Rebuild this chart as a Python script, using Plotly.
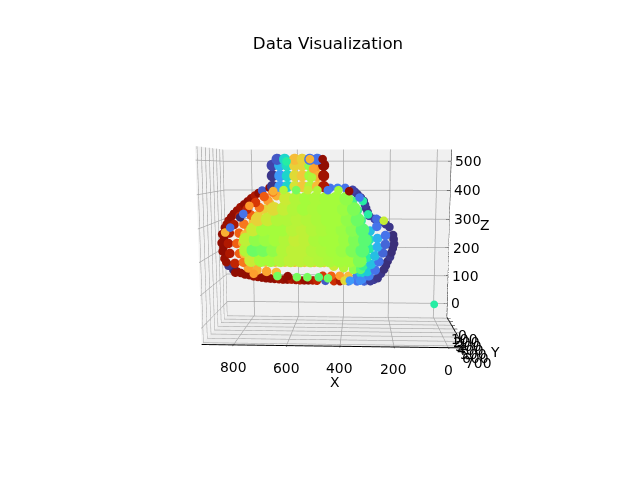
import plotly.graph_objects as go

# outer rim of the blob, drawn first and furthest back
rim_x = [895, 892, 885, 869, 849, 819, 784, 749, 714, 679, 644, 609, 574, 539, 504, 469, 434,
         892, 880, 864, 842, 814, 784, 754, 724, 694, 664,
         195, 190, 200, 215, 230, 255, 285, 210, 240, 270,
         292, 304, 314, 339, 359, 389, 419, 449,
         310, 339, 374, 409,
         192, 195, 206, 222, 242, 270, 225, 255, 298, 309, 326, 349,
         885, 872, 853, 828, 799, 769, 739,
         888, 878, 834, 801, 766, 731, 696, 661, 626, 591, 556, 521,
         480, 445, 410, 375, 340]
rim_z = [233, 205, 181, 157, 143, 133, 126, 120, 116, 114, 112, 112, 110, 110, 109, 109, 108,
         262, 284, 307, 329, 351, 370, 389, 405, 414, 419,
         262, 233, 205, 176, 148, 119, 109, 288, 305, 314,
         324, 348, 372, 393, 408, 414, 414, 414,
         108, 108, 108, 108,
         248, 219, 190, 162, 134, 114, 297, 310, 336, 360, 383, 401,
         248, 295, 318, 340, 360, 380, 397,
         219, 169, 138, 128, 122, 118, 115, 113, 112, 111, 110, 110,
         126, 126, 126, 126, 126]
rim_c = [0.97, 0.97, 0.96, 0.05, 0.03, 0.97, 0.97, 0.96, 0.97, 0.97, 0.96, 0.93, 0.93, 0.97, 0.9, 0.1, 0.88,
         0.97, 0.97, 0.96, 0.97, 0.95, 0.97, 0.93, 0.1, 0.97, 0.14,
         0.04, 0.04, 0.04, 0.04, 0.04, 0.05, 0.06, 0.05, 0.07, 0.07,
         0.06, 0.05, 0.05, 0.05, 0.07, 0.14, 0.16, 0.14,
         0.12, 0.14, 0.14, 0.93,
         0.04, 0.04, 0.05, 0.04, 0.05, 0.06, 0.05, 0.06, 0.05, 0.06, 0.05, 0.06,
         0.97, 0.96, 0.97, 0.96, 0.97, 0.96, 0.97,
         0.97, 0.96, 0.97, 0.97, 0.96, 0.97, 0.97, 0.95, 0.97, 0.95, 0.96, 0.93,
         0.86, 0.79, 0.71, 0.66, 0.16]

# colour bands just inside the rim, red to orange on the left, blue to teal on the right
band_x = [864, 859, 839, 859, 839, 814, 784, 749, 714, 679,
          829, 819, 804, 819, 799, 769, 734, 699, 664, 784, 749, 709, 669,
          226, 226, 236, 251, 266, 291, 261, 319,
          258, 258, 268, 283, 298, 288, 324,
          290, 290, 300, 315, 324, 339, 359,
          754, 714, 674, 634, 594, 554, 514, 474,
          434, 394, 354, 325,
          800, 805, 795, 780, 760, 740, 715, 690]
band_z = [233, 200, 167, 267, 295, 322, 345, 367, 386, 400,
          233, 200, 171, 267, 297, 326, 351, 373, 389, 152, 145, 141, 138,
          262, 233, 205, 176, 148, 129, 291, 119,
          252, 224, 195, 167, 143, 276, 138,
          248, 219, 190, 162, 310, 343, 372,
          172, 172, 172, 172, 172, 172, 172, 172,
          160, 155, 150, 150,
          200, 235, 262, 285, 305, 325, 345, 362]
band_c = [0.93, 0.93, 0.9, 0.93, 0.93, 0.9, 0.9, 0.86, 0.8, 0.75,
          0.79, 0.79, 0.76, 0.79, 0.76, 0.79, 0.76, 0.71, 0.68, 0.7, 0.68, 0.7, 0.66,
          0.14, 0.12, 0.12, 0.14, 0.14, 0.16, 0.14, 0.18,
          0.24, 0.24, 0.26, 0.26, 0.28, 0.26, 0.3,
          0.34, 0.36, 0.36, 0.38, 0.38, 0.38, 0.4,
          0.68, 0.66, 0.66, 0.64, 0.66, 0.64, 0.64, 0.62,
          0.56, 0.52, 0.48, 0.42,
          0.66, 0.68, 0.66, 0.68, 0.64, 0.66, 0.62, 0.6]

# knob on top of the body
knob_x = [679, 649, 619, 589, 559, 529, 499, 474,
          679, 649, 619, 589, 559, 529, 499, 474,
          679, 649, 619, 589, 559, 529, 499, 474,
          659, 629, 589, 559, 529, 499]
knob_z = [419, 419, 419, 419, 419, 419, 419, 419,
          453, 453, 453, 453, 453, 453, 453, 453,
          486, 486, 486, 486, 486, 486, 486, 486,
          505, 505, 505, 505, 505, 505]
knob_c = [0.05, 0.2, 0.3, 0.58, 0.64, 0.52, 0.66, 0.93,
          0.05, 0.2, 0.3, 0.6, 0.64, 0.5, 0.68, 0.95,
          0.07, 0.24, 0.32, 0.62, 0.62, 0.48, 0.72, 0.97,
          0.1, 0.3, 0.66, 0.62, 0.14, 0.14]

# filled middle of the body
body_x = [384, 424, 464, 504, 544, 584, 624,
          354, 394, 434, 474, 514, 554, 594, 634, 674,
          339, 379, 419, 459, 499, 539, 579, 619, 659, 699, 739,
          319, 359, 399, 439, 479, 519, 559, 599, 639, 679, 719, 759,
          309, 349, 389, 429, 469, 509, 549, 589, 629, 669, 709, 749, 789,
          319, 359, 399, 439, 479, 519, 559, 599, 639, 679, 719, 759, 789,
          329, 369, 409, 449, 489, 529, 569, 609, 649, 689, 729, 769]
body_z = [381, 381, 381, 381, 381, 381, 381,
          348, 348, 348, 348, 348, 348, 348, 348, 348,
          314, 314, 314, 314, 314, 314, 314, 314, 314, 314, 314,
          281, 281, 281, 281, 281, 281, 281, 281, 281, 281, 281, 281,
          248, 248, 248, 248, 248, 248, 248, 248, 248, 248, 248, 248, 248,
          214, 214, 214, 214, 214, 214, 214, 214, 214, 214, 214, 214, 214,
          181, 181, 181, 181, 181, 181, 181, 181, 181, 181, 181, 181]
body_c = [0.48, 0.5, 0.5, 0.51, 0.5, 0.52, 0.56,
          0.46, 0.49, 0.5, 0.5, 0.51, 0.5, 0.52, 0.55, 0.6,
          0.44, 0.48, 0.5, 0.5, 0.51, 0.52, 0.53, 0.52, 0.52, 0.56, 0.62,
          0.42, 0.47, 0.49, 0.5, 0.51, 0.52, 0.54, 0.53, 0.5, 0.5, 0.5, 0.56,
          0.42, 0.46, 0.49, 0.5, 0.5, 0.51, 0.54, 0.55, 0.52, 0.5, 0.49, 0.48, 0.54,
          0.42, 0.46, 0.49, 0.5, 0.51, 0.52, 0.54, 0.54, 0.52, 0.48, 0.45, 0.44, 0.52,
          0.46, 0.5, 0.5, 0.51, 0.52, 0.53, 0.54, 0.54, 0.52, 0.5, 0.5, 0.56]

# the loose dots that sit in front of everything
front_x = [756, 660, 618, 581, 539, 493, 456, 389, 368, 327, 831,
           672, 631, 581, 535, 497, 456, 414, 372, 331, 318, 297, 264, 235,
           768, 793, 806, 847, 868,
           618, 526, 518, 514, 476]
front_z = [138, 131, 131, 128, 128, 128, 125, 118, 118, 118, 141,
           405, 408, 408, 408, 408, 408, 408, 405, 385, 374, 332, 318, 312,
           358, 332, 321, 288, 272,
           498, 505, 448, 475, 505]
front_c = [0.71, 0.45, 0.97, 0.45, 0.45, 0.42, 0.44, 0.6, 0.2, 0.18, 0.97,
           0.68, 0.52, 0.45, 0.55, 0.52, 0.15, 0.5, 0.97, 0.15, 0.36, 0.36, 0.13, 0.55,
           0.72, 0.14, 0.03, 0.13, 0.68,
           0.36, 0.68, 0.52, 0.7, 0.97]

# single stray point at the origin
stray_x = [0]
stray_y = [0]
stray_z = [0]
stray_c = [0.36]

x_ticks = [0, 200, 400, 600, 800]
y_ticks = [0, 100, 200, 300, 400, 500, 600, 700]
z_ticks = [0, 100, 200, 300, 400, 500]
x_range = [-60, 920]
y_range = [-30, 740]
z_range = [-50, 540]

layers = [
    (rim_x, 300, rim_z, rim_c, 5),
    (band_x, 325, band_z, band_c, 5.5),
    (knob_x, 335, knob_z, knob_c, 6.5),
    (body_x, 355, body_z, body_c, 8),
    (front_x, 385, front_z, front_c, 5),
]

fig = go.Figure()
for xs, depth, zs, cs, size in layers:
    fig.add_trace(go.Scatter3d(
        x=xs, y=[depth] * len(xs), z=zs, mode="markers",
        marker=dict(size=size, color=cs, colorscale="Turbo", cmin=0, cmax=1, opacity=1, line=dict(width=0)),
        showlegend=False))
fig.add_trace(go.Scatter3d(
    x=stray_x, y=stray_y, z=stray_z, mode="markers",
    marker=dict(size=4.5, color=stray_c, colorscale="Turbo", cmin=0, cmax=1, line=dict(width=0)),
    showlegend=False))

# plotly always puts the z axis on the left edge, so draw it on the right by hand
z_line_x = [x_range[0], x_range[0]]
z_line_y = [y_range[0], y_range[0]]
z_line_z = list(z_range)
for t in z_ticks:
    z_line_x += [None, x_range[0] + 15, x_range[0] - 15]
    z_line_y += [None, y_range[0], y_range[0]]
    z_line_z += [None, t, t]
fig.add_trace(go.Scatter3d(x=z_line_x, y=z_line_y, z=z_line_z, mode="lines",
                           line=dict(color="black", width=1), showlegend=False))

# tick labels and titles as scene annotations, the built in ones sit too close to the box
labels = [dict(x=x_range[0], y=y_range[0], z=t, text=str(t), showarrow=False, xanchor="left", xshift=2) for t in z_ticks]
labels.append(dict(x=x_range[0], y=y_range[0], z=280, text="Z", showarrow=False, xanchor="left", xshift=29))
labels += [dict(x=t, y=y_range[1], z=z_range[0], text=str(t), showarrow=False, yshift=-22) for t in x_ticks]
labels.append(dict(x=420, y=y_range[1], z=z_range[0], text="X", showarrow=False, yshift=-36))
labels += [dict(x=x_range[0], y=t, z=z_range[0], text=str(t), showarrow=False, xshift=15, yshift=-17) for t in y_ticks]
labels.append(dict(x=x_range[0], y=y_range[1], z=z_range[0], text="Y", showarrow=False, xshift=30, yshift=-4))

axis_style = dict(showbackground=True, gridcolor="#a8a8a8", gridwidth=1.5, showspikes=False,
                  zeroline=False, linecolor="black", linewidth=2, ticks="outside",
                  tickcolor="black", ticklen=3, showline=True, showticklabels=False)
fig.update_layout(
    width=640, height=480,
    margin=dict(l=0, r=0, t=0, b=0),
    paper_bgcolor="white",
    font=dict(family="DejaVu Sans", size=13.9, color="black"),
    title=dict(text="Data Visualization", x=0.5, xanchor="center", y=0.927, yanchor="middle", font=dict(size=16.67)),
    scene=dict(
        domain=dict(x=[0.02, 1], y=[0, 1]),
        xaxis=dict(title=dict(text=""), range=x_range, tickvals=x_ticks, backgroundcolor="#f2f2f2", **axis_style),
        yaxis=dict(title=dict(text=""), range=y_range, tickvals=y_ticks, backgroundcolor="#f0f0f0", **axis_style),
        zaxis=dict(title=dict(text=""), range=z_range, tickvals=z_ticks, showticklabels=False, backgroundcolor="#ececec",
                   showbackground=True, gridcolor="#a8a8a8", gridwidth=1.5, showspikes=False, zeroline=False, showline=False, ticks=""),
        aspectmode="manual",
        aspectratio=dict(x=1, y=0.45, z=0.75),
        camera=dict(eye=dict(x=-0.1, y=2.35, z=0.3), up=dict(x=0, y=0, z=1), center=dict(x=0, y=0, z=-0.03)),
        annotations=labels,
    ),
)

fig.write_html("out.html")
